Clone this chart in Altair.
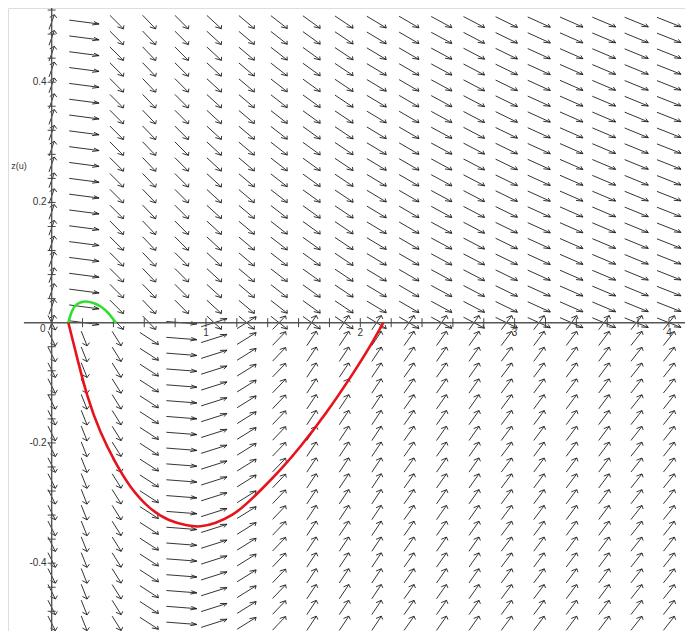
import math
import altair as alt
import pandas as pd

# ---------------- data ----------------
# direction-field grid (u columns, z rows)
u_cols = [0.0, 0.2105, 0.4211, 0.6316, 0.8421, 1.0526, 1.2632, 1.4737, 1.6842, 1.8947,
          2.1053, 2.3158, 2.5263, 2.7368, 2.9474, 3.1579, 3.3684, 3.5789, 3.7895, 4.0]
z_rows = [-0.5, -0.4737, -0.4474, -0.4211, -0.3947, -0.3684, -0.3421, -0.3158, -0.2895,
          -0.2632, -0.2368, -0.2105, -0.1842, -0.1579, -0.1316, -0.1053, -0.0789, -0.0526,
          -0.0263, 0.0, 0.0263, 0.0526, 0.0789, 0.1053, 0.1316, 0.1579, 0.1842, 0.2105,
          0.2368, 0.2632, 0.2895, 0.3158, 0.3421, 0.3684, 0.3947, 0.4211, 0.4474, 0.4737, 0.5]
# arrow direction (degrees, in grid-cell units) per column, upper half (z>0)
top_angle = [80, -15, -64, -65, -64, -62, -60, -58, -56, -54,
             -51, -50, -48, -47, -45, -43, -42, -41, -40, -39]
# arrow direction per column, lower half (z<0)
bottom_angle = [-76, -79, -73, -53, -9, 33, 52, 65, 72, 72,
                72, 71, 71, 71, 70, 70, 70, 70, 69, 69]
# which arrows are drawn on the z=0 row
axis_row = ["both", "top", "top", "top", "bottom", "both", "both", "both", "both", "both",
            "both", "both", "both", "both", "both", "both", "both", "both", "both", "both"]

# solution curves
green_u = [0.108, 0.130, 0.162, 0.216, 0.270, 0.324, 0.367, 0.410, 0.417]
green_z = [0.0, 0.0211, 0.0322, 0.0366, 0.0333, 0.0266, 0.0166, 0.0017, 0.0]
red_u = [0.108, 0.150, 0.231, 0.313, 0.410, 0.507, 0.637, 0.760, 0.885, 0.960,
         1.060, 1.177, 1.260, 1.350, 1.500, 1.598, 1.777, 1.965, 2.060, 2.149]
red_z = [0.0, -0.043, -0.126, -0.182, -0.232, -0.274, -0.311, -0.330, -0.338, -0.340,
         -0.334, -0.320, -0.302, -0.280, -0.240, -0.211, -0.152, -0.080, -0.041, 0.0]

# axes, ticks, labels
x_minor = [0.2, 0.4, 0.6, 0.8, 1.0, 1.2, 1.4, 1.6, 1.8, 2.0, 2.2, 2.4, 2.6, 2.8, 3.0,
           3.2, 3.4, 3.6, 3.8, 4.0]
y_minor = [-0.52, -0.48, -0.44, -0.40, -0.36, -0.32, -0.28, -0.24, -0.20, -0.16, -0.12,
           -0.08, -0.04, 0.04, 0.08, 0.12, 0.16, 0.20, 0.24, 0.28, 0.32, 0.36, 0.40,
           0.44, 0.48, 0.52]
x_labels = [1, 2, 3, 4]
y_labels = [0.4, 0.2, -0.2, -0.4]
y_title = "z(u)"

# ---------------- geometry helpers ----------------
cell_u = 4.0 / 19
cell_z = 1.0 / 38
L = 0.95      # shaft length in cells
H = 0.22      # barb length in cells
B = 30        # barb angle

segs = []


def add_arrow(u, z, ang):
    a = math.radians(ang)
    ex, ey = math.cos(a), math.sin(a)
    x0 = u - 0.5 * L * ex * cell_u
    y0 = z - 0.5 * L * ey * cell_z
    x1 = u + 0.5 * L * ex * cell_u
    y1 = z + 0.5 * L * ey * cell_z
    segs.append(dict(x=x0, y=y0, x2=x1, y2=y1))
    for s in (-1, 1):
        b = math.radians(ang + 180 + s * B)
        segs.append(dict(x=x1, y=y1, x2=x1 + H * math.cos(b) * cell_u,
                         y2=y1 + H * math.sin(b) * cell_z))


for i, u in enumerate(u_cols):
    for z in z_rows:
        if z > 0:
            add_arrow(u, z, top_angle[i])
        elif z < 0:
            add_arrow(u, z, bottom_angle[i])
        else:
            if axis_row[i] in ("top", "both"):
                add_arrow(u, z, top_angle[i])
            if axis_row[i] in ("bottom", "both"):
                add_arrow(u, z, bottom_angle[i])

arrows_df = pd.DataFrame(segs)

axes_df = pd.DataFrame([
    dict(x=-0.18, y=0.0, x2=4.3, y2=0.0),
    dict(x=0.0, y=-0.54, x2=0.0, y2=0.535),
])
tk = []
for v in x_minor:
    tk.append(dict(x=v, y=-0.0075, x2=v, y2=0.0075))
for v in y_minor:
    tk.append(dict(x=-0.026, y=v, x2=0.026, y2=v))
ticks_df = pd.DataFrame(tk)

green_df = pd.DataFrame(dict(x=green_u, y=green_z, i=range(len(green_u))))
red_df = pd.DataFrame(dict(x=red_u, y=red_z, i=range(len(red_u))))

xl_df = pd.DataFrame(dict(x=x_labels, y=[0.0] * len(x_labels), t=[str(v) for v in x_labels]))
yl_df = pd.DataFrame(dict(x=[0.0] * len(y_labels), y=y_labels, t=[str(v) for v in y_labels]))
zero_df = pd.DataFrame(dict(x=[0.0], y=[0.0], t=["0"]))
title_df = pd.DataFrame(dict(x=[-0.212], y=[0.2606], t=[y_title]))

xs = alt.Scale(domain=[-0.283, 4.104], nice=False, zero=False)
ys = alt.Scale(domain=[-0.5128, 0.5234], nice=False, zero=False)
X = alt.X("x:Q", scale=xs, axis=None)
Y = alt.Y("y:Q", scale=ys, axis=None)

arrows = alt.Chart(arrows_df).mark_rule(color="#1e1e1e", strokeWidth=0.9).encode(
    x=X, y=Y, x2="x2:Q", y2="y2:Q")
axes = alt.Chart(axes_df).mark_rule(color="#555555", strokeWidth=1.4).encode(
    x=X, y=Y, x2="x2:Q", y2="y2:Q")
ticks = alt.Chart(ticks_df).mark_rule(color="#444444", strokeWidth=1).encode(
    x=X, y=Y, x2="x2:Q", y2="y2:Q")
green = alt.Chart(green_df).mark_line(color="#2ee02e", strokeWidth=2.6, interpolate="basis").encode(
    x=X, y=Y, order="i:Q")
red = alt.Chart(red_df).mark_line(color="#e8121a", strokeWidth=2.6, interpolate="basis").encode(
    x=X, y=Y, order="i:Q")

tfont = dict(font="Liberation Sans", fontSize=10, color="#333333")
xl = alt.Chart(xl_df).mark_text(align="center", baseline="middle", dy=10, **tfont).encode(
    x=X, y=Y, text="t:N")
yl = alt.Chart(yl_df).mark_text(align="right", baseline="middle", dx=-5, **tfont).encode(
    x=X, y=Y, text="t:N")
zl = alt.Chart(zero_df).mark_text(align="center", baseline="middle", dx=-9, dy=6, **tfont).encode(
    x=X, y=Y, text="t:N")
tl = alt.Chart(title_df).mark_text(align="center", baseline="middle", font="Liberation Sans",
                                   fontSize=9, color="#333333").encode(x=X, y=Y, text="t:N")

chart = alt.layer(arrows, axes, ticks, green, red, xl, yl, zl, tl).properties(
    width=677, height=623,
    autosize=alt.AutoSizeParams(type="none"),
    padding=0,
).configure_view(stroke="transparent", strokeWidth=0).configure(background="white")

chart.save("out.html", embed_options={"renderer": "svg", "actions": False})
